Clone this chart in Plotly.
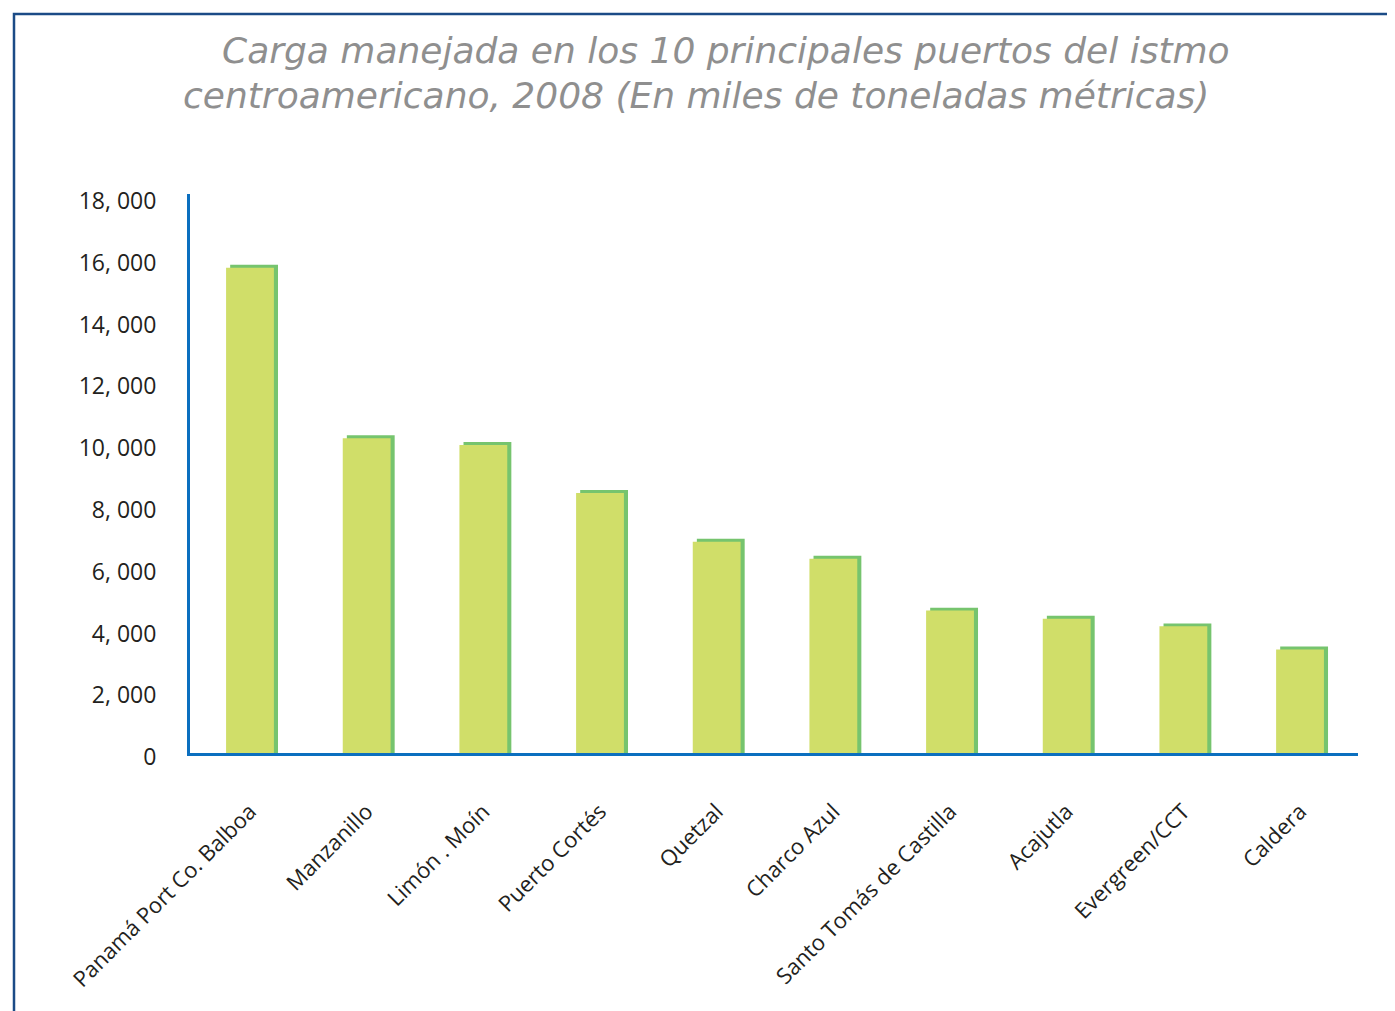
import plotly.graph_objects as go

puertos = ['Panamá Port Co. Balboa', 'Manzanillo', 'Limón . Moín', 'Puerto Cortés',
           'Quetzal', 'Charco Azul', 'Santo Tomás de Castilla', 'Acajutla',
           'Evergreen/CCT', 'Caldera']
carga = [15710, 10190, 9970, 8420, 6840, 6290, 4610, 4350, 4100, 3350]

tick_vals = [0, 2000, 4000, 6000, 8000, 10000, 12000, 14000, 16000, 18000]
tick_text = ['0', '2, 000', '4, 000', '6, 000', '8, 000', '10, 000',
             '12, 000', '14, 000', '16, 000', '18, 000']

title_lines = ['Carga manejada en los 10 principales puertos del istmo',
               'centroamericano, 2008 (En miles de toneladas métricas)']

OFF = 8                     # page body margin
W, H = 1395 - OFF, 1011 - OFF
L, R, T, B = 190 - OFF, 1358 - OFF, 194 - OFF, 753 - OFF   # plot area
cat_px = 116.67             # pixels per category
first_center = 250

front = '#d0de69'
back = '#76c46e'
axis_blue = '#0b6fbf'
frame_blue = '#1b4b86'
bar_w = 0.41
shift = 0.035      # depth effect to the right
depth = 95         # depth effect upwards (data units)


def px_x(p):
    return (p - OFF - L) / (R - L)


def px_y(p):
    return (B - (p - OFF)) / (B - T)


x0 = -(first_center - OFF - L) / cat_px
x1 = x0 + (R - L) / cat_px

fig = go.Figure()
fig.add_trace(go.Bar(x=puertos, y=[v + depth for v in carga], width=bar_w,
                     offset=-bar_w / 2 + shift, marker=dict(color=back, line_width=0),
                     hoverinfo='skip', showlegend=False))
fig.add_trace(go.Bar(x=puertos, y=carga, width=bar_w, offset=-bar_w / 2,
                     marker=dict(color=front, line_width=0), name='Carga',
                     showlegend=False))

fig.update_layout(
    width=W, height=H,
    margin=dict(l=L, r=W - R, t=T, b=H - B, pad=0),
    barmode='overlay',
    plot_bgcolor='white', paper_bgcolor='white',
    font=dict(family='Open Sans', color='#231f20'),
)

fig.update_yaxes(range=[0, 18000 * 560 / 557], tickvals=tick_vals, ticktext=tick_text,
                 showgrid=False, zeroline=False, showline=True, linecolor=axis_blue,
                 linewidth=3, ticks='', ticklabelstandoff=26, ticklabelshift=4,
                 tickfont=dict(size=23, family='Open Sans', color='#231f20'))
fig.update_xaxes(range=[x0, x1], showgrid=False, showline=True, linecolor=axis_blue,
                 linewidth=3, ticks='', tickangle=-45, ticklabelstandoff=34,
                 tickfont=dict(size=22, family='Open Sans', color='#231f20'))

# frame around the figure
fig.add_shape(type='rect', xref='paper', yref='paper',
              x0=px_x(14), x1=px_x(1395 + 20), y0=px_y(1011 + 20), y1=px_y(14),
              line=dict(color=frame_blue, width=2.5), layer='below')

title_pos = [(726, 50), (696, 95)]
for txt, (cx, cy) in zip(title_lines, title_pos):
    fig.add_annotation(text=txt, xref='paper', yref='paper',
                       x=px_x(cx), y=px_y(cy), xanchor='center', yanchor='middle',
                       showarrow=False,
                       font=dict(family='DejaVu Sans', size=36, style='italic',
                                 color='#8f8f8f'))

fig.write_html('out.html')
